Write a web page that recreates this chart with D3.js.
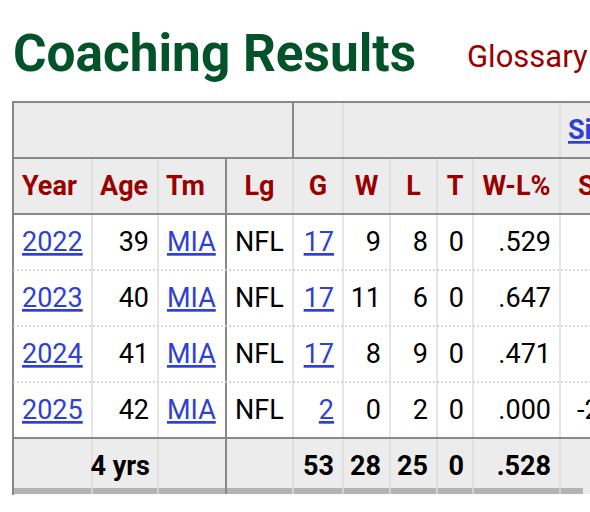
<!DOCTYPE html>
<html><head><meta charset="utf-8">
<script src="https://cdn.jsdelivr.net/npm/d3@7"></script>
<style>body{margin:0;background:#fff;font-family:Roboto,sans-serif}</style>
</head><body>
<svg id="c" width="590" height="512"></svg>
<script>
// table data
var headers = ['Year','Age','Tm','Lg','G','W','L','T','W-L%','SRS']
var years = ['2022','2023','2024','2025']
var ages = [39,40,41,42]
var teams = ['MIA','MIA','MIA','MIA']
var leagues = ['NFL','NFL','NFL','NFL']
var games = [17,17,17,2]
var wins = [9,11,8,0]
var losses = [8,6,9,2]
var ties = [0,0,0,0]
var pct = ['.529','.647','.471','.000']
var srs = ['','','','-2']
var totals = ['4 yrs','','','','53','28','25','0','.528','']

var svg = d3.select('#c')
var edges = [13,92,158,226,293,343,390,437,473,560,640]
var x = function(i){ return edges[i] }
var y = d3.scaleLinear().domain([0,7]).range([102,494]) // 2 header rows, 4 data rows, total
var rowH = y(1)-y(0)
var fs = 27

// title
svg.append('text').attr('x',13).attr('y',71).attr('fill','#03532a')
  .attr('font-size',51).attr('font-weight',700).attr('textLength',403).attr('lengthAdjust','spacingAndGlyphs').text('Coaching Results')
svg.append('text').attr('x',467).attr('y',67).attr('fill','#990000')
  .attr('font-size',31).text('Glossary')

// backgrounds
svg.append('rect').attr('x',13).attr('y',y(0)).attr('width',600).attr('height',rowH*2).attr('fill','#ececec')
svg.append('rect').attr('x',13).attr('y',y(6)).attr('width',600).attr('height',rowH).attr('fill','#ececec')
svg.append('rect').attr('x',13).attr('y',488).attr('width',570).attr('height',6).attr('fill','#b3b3b3')

// vertical lines
edges.slice(1,10).forEach(function(e,j){
  var i = j+1
  if(i==3) return
  svg.append('line').attr('x1',e).attr('x2',e).attr('y1',y(1)).attr('y2',y(7))
    .attr('stroke','#ddd').attr('stroke-width',1.5)
})
svg.append('line').attr('x1',560).attr('x2',560).attr('y1',y(0)).attr('y2',y(1)).attr('stroke','#ddd').attr('stroke-width',1.5)
svg.append('line').attr('x1',343).attr('x2',343).attr('y1',y(0)).attr('y2',y(1)).attr('stroke','#ddd').attr('stroke-width',1.5)
svg.append('line').attr('x1',293).attr('x2',293).attr('y1',y(0)).attr('y2',y(1)).attr('stroke','#888').attr('stroke-width',2)
svg.append('line').attr('x1',226).attr('x2',226).attr('y1',y(1)).attr('y2',y(7)).attr('stroke','#888').attr('stroke-width',2)
svg.append('line').attr('x1',13).attr('x2',13).attr('y1',y(0)-1).attr('y2',y(7)+1).attr('stroke','#888').attr('stroke-width',2)
// horizontal lines
;[0,1,2,6].forEach(function(r){
  svg.append('line').attr('x1',13).attr('x2',600).attr('y1',y(r)).attr('y2',y(r)).attr('stroke','#888').attr('stroke-width',2)
})
;[3,4,5].forEach(function(r){
  svg.append('line').attr('x1',13).attr('x2',600).attr('y1',y(r)).attr('y2',y(r))
    .attr('stroke','#ccc').attr('stroke-width',1.5).attr('stroke-dasharray','2,2')
})

// top header link
svg.append('text').attr('x',568).attr('y',y(0)+rowH/2+9).attr('fill','#2f41d3')
  .attr('font-size',fs).attr('font-weight',700).attr('text-decoration','underline').text('Simple')

// column headers
headers.forEach(function(h,i){
  var anchor = i<3 ? 'start' : 'middle'
  var tx = i==0 ? x(0)+9 : i==1 ? x(1)+8 : i==2 ? x(2)+8 : (x(i)+x(i+1))/2
  if(i==9) { tx = x(9)+18; anchor='start' }
  svg.append('text').attr('x',tx).attr('y',y(1)+rowH/2+9).attr('text-anchor',anchor)
    .attr('fill','#990000').attr('font-size',fs).attr('font-weight',700).text(h)
})

// data rows
function cell(col,row,txt,opt){
  opt = opt||{}
  var anchor = opt.anchor||'end'
  var tx = anchor=='end' ? x(col+1)-9 : x(col)+9
  var t = svg.append('text').attr('x',tx).attr('y',y(row)+rowH/2+9).attr('text-anchor',anchor)
    .attr('font-size',fs).attr('fill',opt.link?'#2f41d3':'#000').text(txt)
  if(opt.link) t.attr('text-decoration','underline')
  if(opt.bold) t.attr('font-weight',700)
}
years.forEach(function(yr,r){
  var row = r+2
  cell(0,row,yr,{anchor:'start',link:true})
  cell(1,row,ages[r])
  cell(2,row,teams[r],{anchor:'start',link:true})
  cell(3,row,leagues[r],{anchor:'start'})
  cell(4,row,games[r],{link:true})
  cell(5,row,wins[r])
  cell(6,row,losses[r])
  cell(7,row,ties[r])
  cell(8,row,pct[r])
  if(srs[r]) svg.append('text').attr('x',577).attr('y',y(row)+rowH/2+9).attr('font-size',fs).text(srs[r])
})
totals.forEach(function(t,i){
  if(!t) return
  if(i==0) { svg.append('text').attr('x',x(2)-8).attr('y',y(6)+rowH/2+9).attr('text-anchor','end')
    .attr('font-size',fs).attr('font-weight',700).text(t); return }
  cell(i,6,t,{bold:true})
})
</script>
</body></html>
